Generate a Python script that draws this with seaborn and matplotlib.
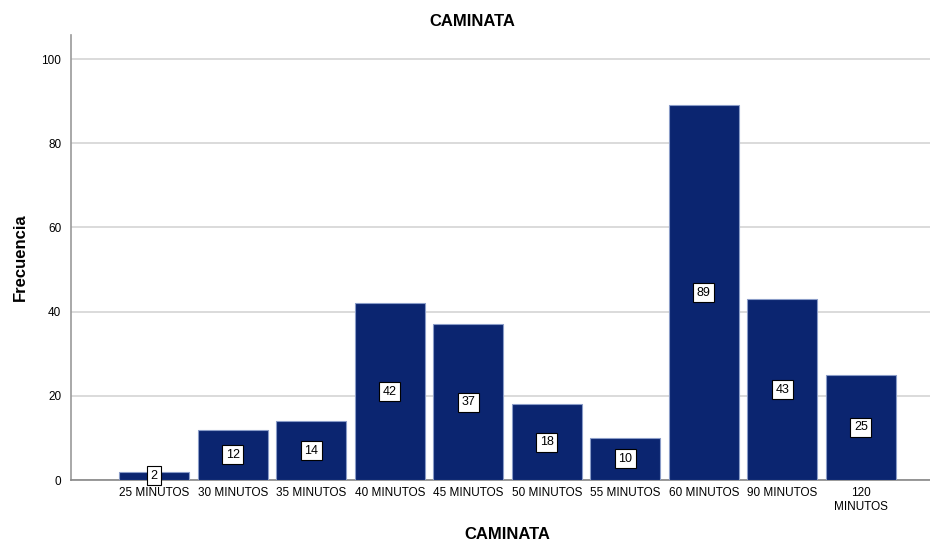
import matplotlib
matplotlib.use("Agg")
import matplotlib.pyplot as plt
import seaborn as sns
import pandas as pd

categorias = ["25 MINUTOS", "30 MINUTOS", "35 MINUTOS", "40 MINUTOS", "45 MINUTOS",
              "50 MINUTOS", "55 MINUTOS", "60 MINUTOS", "90 MINUTOS", "120\nMINUTOS"]
frecuencias = [2, 12, 14, 42, 37, 18, 10, 89, 43, 25]
yticks = [0, 20, 40, 60, 80, 100]

df = pd.DataFrame({"CAMINATA": categorias, "Frecuencia": frecuencias})

sns.set_style("white")
plt.rcParams["font.family"] = ["Liberation Sans", "DejaVu Sans"]
plt.rcParams["text.color"] = "black"
plt.rcParams["axes.labelcolor"] = "black"
plt.rcParams["xtick.color"] = "black"
plt.rcParams["ytick.color"] = "black"

fig = plt.figure(figsize=(9.3, 5.44), dpi=100)
ax = fig.add_axes([0.0763, 0.1176, 0.9237, 0.818])

sns.barplot(data=df, x="CAMINATA", y="Frecuencia", color="#0b2570",
            saturation=1, width=0.89, edgecolor="#8a9cc8", linewidth=0.8,
            ax=ax, zorder=3)

for i, v in enumerate(frecuencias):
    ax.text(i, v / 2, str(v), ha="center", va="center", fontsize=9,
            color="black", zorder=5,
            bbox=dict(boxstyle="square,pad=0.28", fc="white", ec="black", lw=0.8))

ax.set_xlim(-1.06, 9.88)
ax.set_ylim(0, 105.7)
ax.set_yticks(yticks)
ax.yaxis.grid(True, color="#d4d4d4", linewidth=1.2, zorder=0)
ax.set_axisbelow(True)

for s in ["top", "right"]:
    ax.spines[s].set_visible(False)
ax.spines["left"].set_color("#999999")
ax.spines["bottom"].set_color("#888888")
ax.spines["left"].set_linewidth(1.2)
ax.spines["bottom"].set_linewidth(1.2)

ax.tick_params(axis="y", length=4, color="#999999", labelcolor="black", labelsize=8.5, pad=3)
ax.tick_params(axis="x", length=0, labelcolor="black", labelsize=8.5, pad=5)

fig.text(472 / 930, 1 - 21 / 544, "CAMINATA", ha="center", va="center",
         fontsize=12, fontweight="bold")
ax.set_xlabel("CAMINATA", fontsize=12, fontweight="bold")
ax.xaxis.set_label_coords((507 - 71) / (930 - 71), -0.105)
ax.set_ylabel("Frecuencia", fontsize=12, fontweight="bold", labelpad=10)

fig.savefig("out.png", dpi=100)
